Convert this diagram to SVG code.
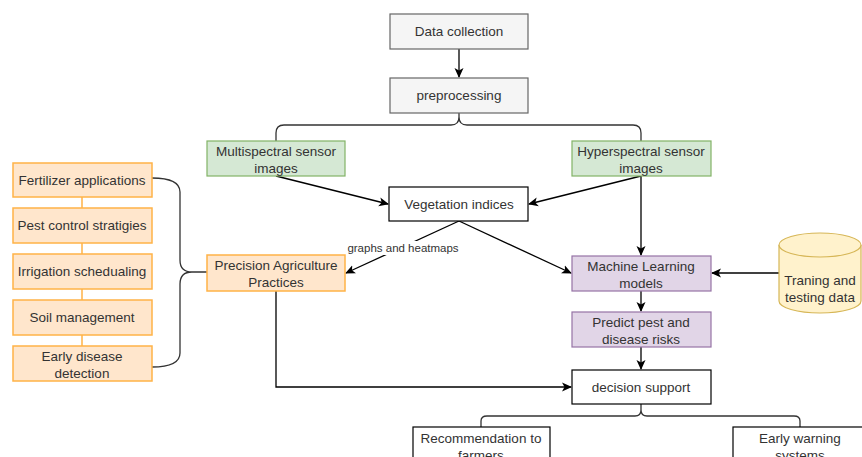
<svg xmlns="http://www.w3.org/2000/svg" width="862" height="457" viewBox="0 0 862 457">
<defs>
<marker id="arr" viewBox="0 0 10 10" refX="9" refY="5" markerWidth="10" markerHeight="10" markerUnits="userSpaceOnUse" orient="auto">
<path d="M0,0.5 L10,5 L0,9.5 L2.5,5 Z" fill="#000"/>
</marker>
<style>
text{font-family:"Liberation Sans",Arial,sans-serif;font-size:13.5px;fill:#333;text-anchor:middle}
.lbl{font-size:11.5px}
.gray{fill:#f5f5f5;stroke:#666;stroke-width:1.2}
.white{fill:#fff;stroke:#000;stroke-width:1.2}
.green{fill:#d5e8d4;stroke:#82b366;stroke-width:1.2}
.orange{fill:#ffe6cc;stroke:#ffb347;stroke-width:1.5}
.purple{fill:#e1d5e7;stroke:#9673a6;stroke-width:1.2}
.cyl{fill:#fff2cc;stroke:#d6b656;stroke-width:1.2}
.ln{fill:none;stroke:#000;stroke-width:1.3}
.br{fill:none;stroke:#333;stroke-width:1.3}
.oln{fill:none;stroke:#ffb347;stroke-width:1.5}
</style>
</defs>
<rect width="862" height="457" fill="#fff"/>

<g id="connectors">
<path class="ln" d="M459,49 V77" marker-end="url(#arr)"/>
<path class="br" d="M276,141 V133 Q276,125 284,125 H451 Q459,125 459,117 V113 M459,117 Q459,125 467,125 H633 Q641,125 641,133 V141"/>
<path class="ln" d="M276,176 L388,204" marker-end="url(#arr)"/>
<path class="ln" d="M641,176 L529,204" marker-end="url(#arr)"/>
<path class="ln" d="M641,176 V255" marker-end="url(#arr)"/>
<path class="ln" d="M459,221 L346,273" marker-end="url(#arr)"/>
<path class="ln" d="M459,221 L571,273" marker-end="url(#arr)"/>
<path class="ln" d="M779,273 H712" marker-end="url(#arr)"/>
<path class="ln" d="M641,291 V311" marker-end="url(#arr)"/>
<path class="ln" d="M641,347 V369" marker-end="url(#arr)"/>
<path class="ln" d="M276,291 V387 H571" marker-end="url(#arr)"/>
<path class="br" d="M481,427 V421 Q481,416 487,416 H635 Q641,416 641,410 V404 M641,410 Q641,416 647,416 H794 Q800,416 800,421 V427"/>
<path class="br" d="M152,178 Q180,178 180,192 V260 Q180,272 192,272 Q180,272 180,284 V353 Q180,367 152,367 M192,272 H207"/>
<path class="oln" d="M82,197 V208 M82,243 V254 M82,289 V300 M82,335 V346"/>
<rect x="344" y="241" width="118" height="14" fill="#fff"/>
<text class="lbl" x="403" y="252">graphs and heatmaps</text>
</g>

<g id="data-collection"><rect class="gray" x="390" y="14" width="138" height="35"/><text x="459" y="36">Data collection</text></g>
<g id="preprocessing"><rect class="gray" x="390" y="78" width="138" height="35"/><text x="459" y="100">preprocessing</text></g>
<g id="multispectral"><rect class="green" x="207" y="141" width="138" height="35"/><text x="276" y="156">Multispectral sensor</text><text x="276" y="173">images</text></g>
<g id="hyperspectral"><rect class="green" x="572" y="141" width="139" height="35"/><text x="641" y="156">Hyperspectral sensor</text><text x="641" y="173">images</text></g>
<g id="vegetation"><rect class="white" x="389" y="187" width="139" height="34"/><text x="459" y="209">Vegetation indices</text></g>
<g id="precision"><rect class="orange" x="207" y="255" width="138" height="36"/><text x="276" y="270">Precision Agriculture</text><text x="276" y="287">Practices</text></g>
<g id="ml"><rect class="purple" x="572" y="256" width="139" height="35"/><text x="641" y="271">Machine Learning</text><text x="641" y="288">models</text></g>
<g id="predict"><rect class="purple" x="572" y="312" width="139" height="35"/><text x="641" y="327">Predict pest and</text><text x="641" y="344">disease risks</text></g>
<g id="decision"><rect class="white" x="572" y="370" width="139" height="34"/><text x="641" y="392">decision support</text></g>
<g id="recommendation"><rect class="white" x="413" y="427" width="137" height="40"/><text x="481" y="443">Recommendation to</text><text x="481" y="460">farmers</text></g>
<g id="early-warning"><rect class="white" x="733" y="427" width="140" height="40"/><text x="800" y="443">Early warning</text><text x="800" y="460">systems</text></g>
<g id="training-data"><path class="cyl" d="M779,245 A41,12 0 0 1 861,245 V301 A41,12 0 0 1 779,301 Z"/><path class="cyl" d="M779,245 A41,12 0 0 0 861,245" fill="none"/><text x="820" y="285">Traning and</text><text x="820" y="302">testing data</text></g>
<g id="fertilizer"><rect class="orange" x="13" y="163" width="139" height="34"/><text x="82" y="185">Fertilizer applications</text></g>
<g id="pest-control"><rect class="orange" x="13" y="208" width="139" height="35"/><text x="82" y="230">Pest control stratigies</text></g>
<g id="irrigation"><rect class="orange" x="13" y="254" width="139" height="35"/><text x="82" y="276">Irrigation schedualing</text></g>
<g id="soil"><rect class="orange" x="13" y="300" width="139" height="35"/><text x="82" y="322">Soil management</text></g>
<g id="early-disease"><rect class="orange" x="13" y="346" width="139" height="35"/><text x="82" y="361">Early disease</text><text x="82" y="378">detection</text></g>
</svg>
